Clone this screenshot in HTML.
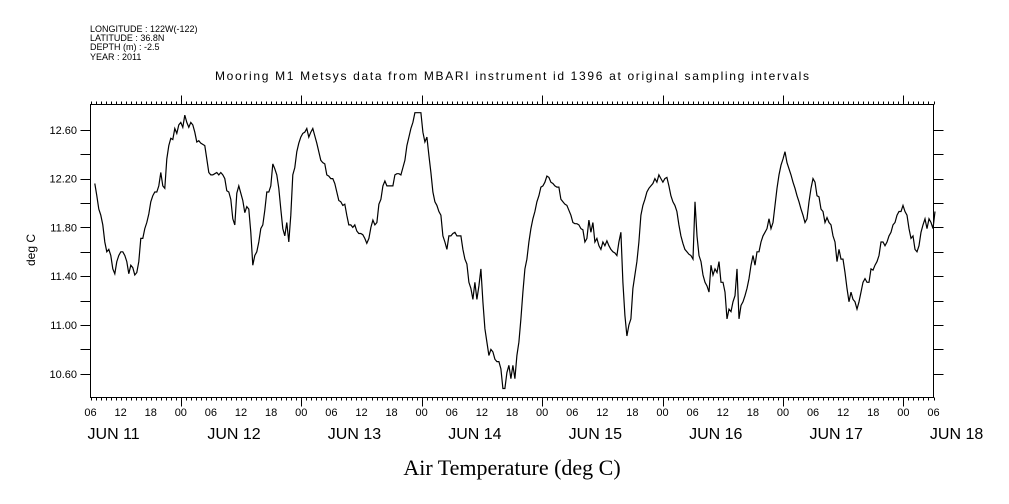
<!DOCTYPE html>
<html><head><meta charset="utf-8"><style>
html,body{margin:0;padding:0;background:#fff;}
svg{display:block;}
text{font-family:"Liberation Sans",sans-serif;fill:#000;}
</style></head><body>
<svg id="chart" width="1009" height="504" viewBox="0 0 1009 504" xmlns="http://www.w3.org/2000/svg">
<g font-size="9">
<text x="90" y="32">LONGITUDE : 122W(-122)</text>
<text x="90" y="41">LATITUDE : 36.8N</text>
<text x="90" y="50">DEPTH (m) : -2.5</text>
<text x="90" y="60">YEAR : 2011</text>
</g>
<text x="512" y="80" font-size="12" text-anchor="middle" textLength="594">Mooring M1 Metsys data from MBARI instrument id 1396 at original sampling intervals</text>
<text font-size="12" text-anchor="middle" transform="translate(35,250) rotate(-90)">deg C</text>
<text x="512" y="475" font-size="22" text-anchor="middle" style="font-family:'Liberation Serif',serif">Air Temperature (deg C)</text>
<rect x="90.5" y="104.5" width="843" height="293" fill="none" stroke="#000" stroke-width="1"/>
<g id="axes"></g>
<g id="series"></g>
</svg>
<script>
const startHour = 0.85;
const stepHours = 0.3987;
const temps = [
12.16,12.06,11.95,11.9,11.82,11.68,11.6,11.62,11.57,11.46,11.42,11.52,11.57,11.6,11.6,11.57,11.52,11.42,11.49,11.47,11.41,11.43,11.52,11.71,11.71,11.79,11.84,11.91,12.01,12.06,12.09,12.09,12.14,12.25,12.14,12.12,12.36,12.47,12.53,12.52,12.61,12.57,12.64,12.66,12.62,12.72,12.66,12.62,12.66,12.64,12.58,12.5,12.51,12.49,12.48,12.47,12.36,12.25,12.23,12.23,12.24,12.25,12.23,12.25,12.23,12.2,12.1,12.09,12.03,11.87,11.82,12.08,12.14,12.08,12.02,11.92,11.97,11.95,11.76,11.49,11.57,11.6,11.68,11.79,11.82,11.94,12.09,12.09,12.14,12.32,12.28,12.23,12.12,11.95,11.79,11.73,11.84,11.68,11.9,12.23,12.29,12.42,12.49,12.54,12.57,12.58,12.61,12.54,12.58,12.61,12.55,12.49,12.42,12.35,12.33,12.32,12.23,12.22,12.2,12.2,12.16,12.09,12.02,12.01,11.98,11.99,11.9,11.82,11.82,11.8,11.82,11.77,11.75,11.75,11.74,11.71,11.67,11.71,11.8,11.86,11.82,11.84,11.99,12.03,12.14,12.18,12.14,12.14,12.14,12.14,12.23,12.24,12.24,12.23,12.29,12.35,12.47,12.54,12.61,12.66,12.74,12.74,12.74,12.74,12.58,12.5,12.54,12.39,12.25,12.09,12.01,11.98,11.93,11.9,11.73,11.68,11.62,11.73,11.73,11.75,11.76,11.73,11.73,11.73,11.62,11.54,11.5,11.35,11.3,11.21,11.35,11.21,11.32,11.46,11.19,10.97,10.86,10.75,10.8,10.78,10.72,10.7,10.7,10.64,10.48,10.48,10.61,10.67,10.56,10.67,10.56,10.75,10.86,11.05,
11.27,11.46,11.54,11.68,11.79,11.87,11.93,12.01,12.06,12.13,12.14,12.17,12.22,12.21,12.17,12.16,12.14,12.13,12.13,12.03,12.01,11.99,11.98,11.94,11.9,11.84,11.83,11.83,11.82,11.79,11.78,11.68,11.71,11.86,11.76,11.84,11.68,11.71,11.65,11.62,11.68,11.65,11.69,11.65,11.62,11.6,11.59,11.57,11.68,11.76,11.35,11.08,10.91,11.0,11.05,11.3,11.41,11.52,11.68,11.9,11.98,12.03,12.09,12.12,12.14,12.16,12.2,12.17,12.23,12.2,12.17,12.2,12.21,12.14,12.06,12.01,11.98,11.93,11.82,11.73,11.67,11.62,11.6,11.58,11.57,11.54,12.01,11.73,11.57,11.52,11.41,11.35,11.32,11.27,11.49,11.41,11.46,11.43,11.52,11.35,11.35,11.27,11.05,11.13,11.11,11.19,11.24,11.46,11.05,11.16,11.19,11.24,11.3,11.38,11.49,11.57,11.49,11.6,11.6,11.68,11.73,11.76,11.79,11.87,11.79,11.84,11.98,12.12,12.23,12.31,12.36,12.42,12.33,12.28,12.23,12.17,12.12,12.06,12.01,11.95,11.9,11.84,11.87,12.01,12.12,12.2,12.17,12.06,12.05,11.95,11.93,11.84,11.88,11.84,11.82,11.73,11.68,11.52,11.62,11.54,11.54,11.43,11.3,11.19,11.27,11.21,11.19,11.13,11.19,11.27,11.35,11.38,11.35,11.35,11.46,11.45,11.49,11.52,11.57,11.68,11.68,11.65,11.68,11.73,11.76,11.82,11.84,11.9,11.93,11.93,11.98,11.93,11.9,11.79,11.71,11.73,11.62,11.6,11.65,11.76,11.82,11.87,11.79,11.87,11.84,11.79,11.93
];
const yTickValues = [10.6, 10.8, 11.0, 11.2, 11.4, 11.6, 11.8, 12.0, 12.2, 12.4, 12.6];
const yTickLabels = ["10.60", "11.00", "11.40", "11.80", "12.20", "12.60"];
const xHourLabels = ["06","12","18","00"];
const dayLabels = ["JUN 11","JUN 12","JUN 13","JUN 14","JUN 15","JUN 16","JUN 17","JUN 18"];

const L = 90.5, R = 933.5, T = 104.5, B = 397.5;
const HOURS = 168, YMIN = 10.406, YMAX = 12.807;
function xs(h){ return L + (R - L) * h / HOURS; }
function ys(v){ return B - (B - T) * (v - YMIN) / (YMAX - YMIN); }
const NS = "http://www.w3.org/2000/svg";
const axes = document.getElementById('axes');
const series = document.getElementById('series');
function mk(tag, attrs, parent){ const e = document.createElementNS(NS, tag); for (const k in attrs) e.setAttribute(k, attrs[k]); parent.appendChild(e); return e; }

// x ticks (hourly minor, 6h labels, day majors)
for (let h = 0; h <= HOURS; h++) {
  const x = Math.round(xs(h)) + 0.5;
  const isDay = (h + 6) % 24 === 0;
  const len = isDay ? 9 : 3;
  const t1 = mk('line', {x1:x, x2:x, y1:T, y2:T - len, stroke:'#000'}, axes);
  
  
  const t2 = mk('line', {x1:x, x2:x, y1:B, y2:B + len, stroke:'#000'}, axes);
  
  
  if (h % 6 === 0) {
    const lb = mk('text', {x: xs(h), y: 416, 'font-size': 11, 'text-anchor': 'middle'}, axes);
    
    
    lb.textContent = xHourLabels[(h / 6) % 4];
  }
}
dayLabels.forEach((d, i) => {
  const lb = mk('text', {x: xs(6 + 24 * i) - 7, y: 439, 'font-size': 16, 'text-anchor': 'middle'}, axes);
  
  
  lb.textContent = d;
});
// y ticks
yTickValues.forEach(v => {
  const y = Math.round(ys(v)) + 0.5;
  const a = mk('line', {x1:L - 10, x2:L, y1:y, y2:y, stroke:'#000'}, axes);
  
  
  const b = mk('line', {x1:R, x2:R + 10, y1:y, y2:y, stroke:'#000'}, axes);
  
  
});
yTickLabels.forEach(s => {
  const lb = mk('text', {x: 77, y: ys(parseFloat(s)) + 4, 'font-size': 11, 'text-anchor': 'end'}, axes);
  
  
  lb.textContent = s;
});
// series
const pts = temps.map((v, i) => xs(startHour + i * stepHours).toFixed(1) + ',' + ys(v).toFixed(1)).join(' ');
const line = mk('polyline', {points: pts, fill: 'none', stroke: '#000', 'stroke-width': 1.2}, series);


</script>
</body></html>
